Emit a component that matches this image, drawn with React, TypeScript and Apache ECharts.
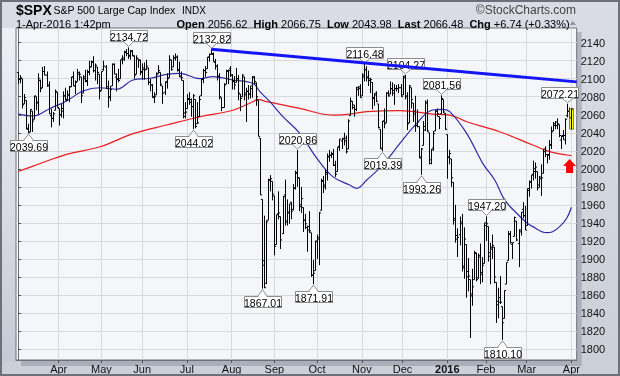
import React, { useEffect, useRef } from "react";
import * as echarts from "echarts";

// ---- Daily OHLC bars [open, high, low, close], one small array per month ----
const mar15 = [
  [2107, 2107, 2094, 2099], [2099, 2104, 2095, 2101], [2100, 2100, 2067, 2071], [2072, 2083, 2072, 2079],
  [2076, 2076, 2044, 2044], [2045, 2050, 2039.69, 2040], [2041, 2066, 2041, 2066], [2064, 2064, 2041, 2053],
  [2055, 2081, 2055, 2081], [2080, 2080, 2065, 2074], [2073, 2106, 2061, 2100], [2098, 2099, 2085, 2089],
  [2090, 2113, 2090, 2108], [2108, 2114, 2104, 2104], [2104, 2108, 2091, 2092], [2093, 2097, 2061, 2061],
  [2059, 2067, 2046, 2056], [2056, 2063, 2052, 2061], [2065, 2088, 2065, 2086], [2085, 2085, 2068, 2068],
];
const apr15 = [
  [2067, 2067, 2048, 2060], [2060, 2072, 2057, 2067], [2064, 2086, 2056, 2081], [2081, 2090, 2076, 2076],
  [2077, 2087, 2076, 2082], [2082, 2092, 2074, 2091], [2091, 2102, 2091, 2102], [2102, 2108, 2092, 2092],
  [2092, 2098, 2083, 2096], [2097, 2111, 2097, 2107], [2105, 2108, 2098, 2105], [2102, 2102, 2073, 2081],
  [2084, 2104, 2084, 2100], [2102, 2110, 2096, 2097], [2098, 2110, 2092, 2108], [2107, 2120, 2104, 2113],
  [2113, 2120, 2113, 2118], [2119, 2125, 2107, 2109], [2109, 2117, 2098, 2115], [2113, 2113, 2094, 2107],
  [2105, 2105, 2077, 2086],
];
const may15 = [
  [2087, 2108, 2087, 2108], [2110, 2120, 2109, 2114], [2113, 2115, 2089, 2089], [2091, 2098, 2068, 2080],
  [2079, 2092, 2075, 2088], [2092, 2117, 2092, 2116], [2116, 2117, 2105, 2105], [2102, 2106, 2086, 2099],
  [2100, 2111, 2096, 2098], [2100, 2121, 2100, 2121], [2122, 2126, 2116, 2123], [2121, 2131, 2120, 2129],
  [2130, 2133, 2125, 2128], [2128, 2134.72, 2122, 2126], [2125, 2132, 2121, 2131], [2130, 2132, 2125, 2126],
  [2125, 2126, 2100, 2104], [2105, 2126, 2105, 2123], [2122, 2122, 2112, 2121], [2120, 2121, 2104, 2107],
];
const jun15 = [
  [2108, 2117, 2099, 2112], [2110, 2118, 2099, 2110], [2110, 2121, 2110, 2114], [2112, 2112, 2093, 2096],
  [2096, 2100, 2086, 2093], [2093, 2094, 2079, 2079], [2080, 2085, 2073, 2080], [2082, 2107, 2082, 2105],
  [2106, 2115, 2106, 2109], [2107, 2107, 2092, 2094], [2092, 2092, 2072, 2084], [2085, 2097, 2082, 2096],
  [2097, 2106, 2089, 2100], [2101, 2126, 2101, 2121], [2121, 2121, 2109, 2110], [2113, 2126, 2113, 2123],
  [2123, 2128, 2120, 2124], [2124, 2126, 2108, 2109], [2110, 2119, 2102, 2102], [2103, 2108, 2098, 2101],
  [2098, 2098, 2056, 2058], [2062, 2074, 2056, 2063],
];
const jul15 = [
  [2067, 2083, 2067, 2077], [2078, 2085, 2071, 2077], [2074, 2078, 2058, 2069], [2069, 2083, 2044.02, 2081],
  [2077, 2077, 2045, 2047], [2050, 2074, 2050, 2051], [2058, 2081, 2058, 2077], [2081, 2100, 2081, 2100],
  [2099, 2111, 2095, 2109], [2109, 2114, 2102, 2107], [2111, 2124, 2111, 2124], [2124, 2128, 2119, 2127],
  [2127, 2132.82, 2127, 2128], [2127, 2129, 2119, 2119], [2118, 2122, 2110, 2114], [2114, 2116, 2098, 2102],
  [2103, 2106, 2077, 2080], [2079, 2079, 2064, 2068], [2068, 2095, 2068, 2093], [2094, 2110, 2094, 2109],
  [2108, 2110, 2094, 2109], [2111, 2114, 2102, 2104],
];
const aug15 = [
  [2104, 2105, 2088, 2098], [2097, 2103, 2088, 2093], [2096, 2112, 2096, 2100], [2100, 2104, 2076, 2084],
  [2083, 2083, 2064, 2078], [2080, 2105, 2080, 2104], [2102, 2102, 2076, 2084], [2082, 2090, 2052, 2086],
  [2086, 2093, 2077, 2083], [2083, 2092, 2078, 2092], [2089, 2103, 2079, 2102], [2101, 2103, 2094, 2097],
  [2095, 2096, 2070, 2080], [2076, 2076, 2036, 2036], [2034, 2034, 1971, 1971], [1966, 1966, 1867.01, 1893],
  [1898, 1948, 1867.6, 1868], [1873, 1943, 1872, 1941], [1943, 1989, 1943, 1988], [1987, 1993, 1975, 1989],
  [1986, 1986, 1965, 1972],
];
const sep15 = [
  [1970, 1970, 1904, 1914], [1916, 1949, 1916, 1949], [1950, 1975, 1944, 1951], [1947, 1947, 1911, 1921],
  [1928, 1970, 1928, 1969], [1971, 1988, 1937, 1942], [1941, 1966, 1937, 1952], [1951, 1961, 1939, 1961],
  [1963, 1963, 1944, 1953], [1955, 1983, 1954, 1978], [1979, 1998, 1977, 1995], [1996, 2020.86, 1980, 1990],
  [1990, 1990, 1953, 1958], [1960, 1980, 1951, 1967], [1957, 1957, 1930, 1943], [1943, 1950, 1933, 1939],
  [1935, 1937, 1908, 1932], [1936, 1953, 1929, 1931], [1929, 1929, 1880, 1882], [1882, 1899, 1871.91, 1884],
  [1887, 1920, 1887, 1920],
];
const oct15 = [
  [1919, 1927, 1900, 1924], [1922, 1952, 1893, 1951], [1954, 1989, 1954, 1987], [1986, 1992, 1973, 1980],
  [1982, 1999, 1977, 1996], [1994, 2017, 1987, 2013], [2014, 2021, 2008, 2015], [2015, 2019, 2012, 2017],
  [2016, 2022, 2003, 2004], [2004, 2009, 1991, 1994], [1997, 2024, 1997, 2024], [2025, 2033, 2020, 2033],
  [2031, 2034, 2022, 2034], [2033, 2040, 2026, 2031], [2034, 2037, 2017, 2019], [2022, 2055, 2022, 2053],
  [2059, 2079, 2059, 2075], [2075, 2075, 2066, 2071], [2068, 2071, 2058, 2066], [2066, 2091, 2064, 2090],
  [2088, 2092, 2081, 2089], [2091, 2094, 2079, 2079],
];
const nov15 = [
  [2081, 2106, 2081, 2104], [2102, 2116.48, 2097, 2110], [2110, 2114, 2097, 2102], [2101, 2109, 2092, 2100],
  [2098, 2101, 2084, 2099], [2096, 2096, 2066, 2079], [2078, 2084, 2070, 2082], [2084, 2086, 2074, 2075],
  [2072, 2072, 2045, 2046], [2044, 2044, 2022, 2023], [2022, 2053, 2019.39, 2053], [2053, 2067, 2045, 2050],
  [2051, 2085, 2051, 2084], [2084, 2087, 2080, 2081], [2083, 2097, 2083, 2089], [2089, 2096, 2081, 2087],
  [2084, 2094, 2071, 2089], [2089, 2093, 2086, 2089], [2089, 2094, 2084, 2090], [2090, 2094, 2080, 2080],
];
const dec15 = [
  [2082, 2103, 2082, 2103], [2101, 2104.27, 2077, 2080], [2081, 2085, 2043, 2050], [2051, 2093, 2051, 2092],
  [2090, 2090, 2067, 2077], [2073, 2073, 2052, 2064], [2061, 2081, 2041, 2048], [2048, 2066, 2046, 2052],
  [2047, 2047, 2012, 2012], [2013, 2023, 1993.26, 2022], [2026, 2053, 2026, 2043], [2047, 2076, 2042, 2073],
  [2074, 2077, 2041, 2042], [2040, 2040, 2005, 2006], [2010, 2022, 2005, 2021], [2023, 2042, 2020, 2039],
  [2042, 2065, 2042, 2064], [2064, 2067, 2058, 2061], [2058, 2058, 2044, 2056], [2061, 2081.56, 2061, 2078],
  [2077, 2077, 2062, 2063], [2061, 2062, 2043, 2044],
];
const jan16 = [
  [2038, 2038, 1989, 2013], [2013, 2021, 2005, 2017], [2011, 2011, 1980, 1990], [1985, 1985, 1938, 1943],
  [1945, 1960, 1918, 1922], [1926, 1934, 1902, 1924], [1927, 1947, 1915, 1939], [1941, 1950, 1886, 1890],
  [1892, 1935, 1878, 1922], [1916, 1916, 1857, 1880], [1886, 1901, 1864, 1881], [1877, 1877, 1812.29, 1859],
  [1861, 1889, 1848, 1869], [1877, 1909, 1877, 1907], [1906, 1907, 1875, 1877], [1879, 1906, 1878, 1904],
  [1902, 1917, 1872, 1883], [1885, 1902, 1874, 1893], [1895, 1940, 1895, 1940],
];
const feb16 = [
  [1937, 1947.2, 1920, 1939], [1936, 1936, 1897, 1903], [1907, 1918, 1872, 1913], [1911, 1927, 1900, 1915],
  [1913, 1913, 1873, 1880], [1874, 1874, 1829, 1853], [1849, 1868, 1834, 1852], [1857, 1881, 1850, 1852],
  [1847, 1847, 1810.1, 1829], [1834, 1865, 1834, 1865], [1872, 1896, 1872, 1896], [1898, 1931, 1898, 1927],
  [1928, 1931, 1917, 1918], [1916, 1918, 1900, 1918], [1925, 1947, 1925, 1946], [1942, 1942, 1920, 1921],
  [1917, 1933, 1891, 1930], [1932, 1952, 1926, 1952], [1955, 1963, 1945, 1948], [1948, 1959, 1932, 1932],
];
const mar16 = [
  [1937, 1978, 1937, 1978], [1976, 1987, 1969, 1986], [1985, 1993, 1978, 1993], [1994, 2009, 1987, 2000],
  [1997, 2007, 1989, 2002], [1997, 1997, 1976, 1979], [1982, 1992, 1979, 1989], [1991, 2005, 1970, 1990],
  [1995, 2022, 1995, 2022], [2019, 2025, 2013, 2020], [2016, 2016, 2006, 2016], [2015, 2032, 2010, 2027],
  [2026, 2047, 2022, 2041], [2042, 2052, 2042, 2050], [2048, 2053, 2044, 2052], [2048, 2056, 2044, 2050],
  [2049, 2049, 2035, 2037], [2032, 2037, 2022, 2036], [2037, 2043, 2032, 2037], [2032, 2056, 2027, 2055],
  [2059, 2072.21, 2057, 2064], [2064, 2068, 2057, 2060],
];
const apr16 = [[2056.62, 2066.75, 2043.98, 2066.48]];

const monthBlocks = [mar15, apr15, may15, jun15, jul15, aug15, sep15, oct15, nov15, dec15, jan16, feb16, mar16, apr16];
const monthNames = ["Mar", "Apr", "May", "Jun", "Jul", "Aug", "Sep", "Oct", "Nov", "Dec", "2016", "Feb", "Mar", "Apr"];

// Moving averages: [bar index, value]
const ma50 = [
  [0, 2061], [7.4, 2058.6], [10.8, 2060.8], [15.7, 2067], [23.9, 2075.3], [31.9, 2086.4], [40.3, 2090],
  [48.5, 2088.3], [56.5, 2098.6], [64.8, 2100.5], [73, 2104.9], [79.6, 2106], [89.4, 2100], [95.8, 2102.3],
  [105.6, 2098.6], [115.4, 2094.9], [118.9, 2085.6], [123.8, 2074.5], [130.2, 2057.9], [138.5, 2039.4],
  [146.9, 2011.6], [154.7, 1991.3], [163, 1982], [166.5, 1978.4], [171.4, 1987.6], [179.3, 2004.3],
  [187.6, 2028], [196, 2050.5], [203.8, 2065.3], [208.7, 2066], [212.2, 2063.4], [220.5, 2039.4],
  [228.4, 2006.1], [234.3, 1987.6], [239.2, 1965.5], [245.1, 1950.7], [250, 1940.2], [253, 1935.8],
  [259.8, 1929.1], [262.8, 1930.2], [266.2, 1935.8], [269.7, 1945.1], [272, 1957.3],
];
const ma200 = [
  [0, 1997], [7.4, 2003], [23.9, 2016], [40.3, 2024.5], [56.5, 2039], [73, 2048.6], [89.4, 2057.8],
  [105.6, 2065], [115.4, 2074.5], [117.9, 2077], [122.3, 2074.5], [138.5, 2067], [154.7, 2059.7],
  [163, 2060.8], [171.4, 2063.4], [187.6, 2064.5], [203.8, 2060.8], [212.2, 2059.7], [220.5, 2052.3],
  [236.7, 2041.2], [253, 2026.4], [261.3, 2019], [269.7, 2015.3], [272, 2014.6],
];

const highLabelIdx = [54, 95, 137, 170, 190, 208, 230, 270];
const lowLabelIdx = [5, 86, 120, 145, 179, 198, 238];
const trendLine = [[95, 2132.82], [274.6, 2096.5]];
const arrowAt = [271.1, 2011];
const yTicks = [1800, 1820, 1840, 1860, 1880, 1900, 1920, 1940, 1960, 1980, 2000, 2020, 2040, 2060, 2080, 2100, 2120, 2140];

const quote = { open: "2056.62", high: "2066.75", low: "2043.98", last: "2066.48", chg: "+6.74 (+0.33%)" };

const FONT = "'Liberation Sans', Arial, Helvetica, sans-serif";

export default function App() {
  const ref = useRef<HTMLDivElement>(null);
  useEffect(() => {
    if (!ref.current) return;
    const chart = echarts.init(ref.current, null, { renderer: "svg" });

    const bars: number[][] = [];
    const monthStarts: number[] = [];
    const monthLabelAt: Record<number, string> = {};
    monthBlocks.forEach((blk, m) => {
      if (m > 0) {
        monthStarts.push(bars.length);
        monthLabelAt[bars.length] = monthNames[m];
      }
      blk.forEach((r) => bars.push([bars.length, r[0], r[1], r[2], r[3]]));
    });
    const lastIdx = bars.length - 1;
    const callouts = [
      ...highLabelIdx.map((i) => [i, bars[i][2], 1]),
      ...lowLabelIdx.map((i) => [i, bars[i][3], -1]),
    ];

    const gridL = 16, gridT = 28, gridR = 576.7, gridB = 360;

    chart.setOption({
      animation: false,
      grid: {
        left: gridL, top: gridT, right: 620 - gridR, bottom: 376 - gridB,
        show: true, backgroundColor: "transparent", borderColor: "#6e717b", borderWidth: 1,
      },
      xAxis: {
        type: "value", min: -1, max: 274.6,
        axisLine: { show: true, lineStyle: { color: "#6e717b" } },
        axisTick: { show: true, customValues: monthStarts, length: 3, lineStyle: { color: "#555" } },
        axisLabel: {
          customValues: monthStarts, margin: 3, color: "#111", fontSize: 11, fontFamily: FONT,
          formatter: (v: number) => {
            const s = monthLabelAt[Math.round(v)] || "";
            return s === "2016" ? "{b|2016}" : s;
          },
          rich: { b: { fontWeight: "bold", fontSize: 11, fontFamily: FONT, color: "#111" } },
        },
        splitLine: { show: true, lineStyle: { color: "#d8dae0", width: 1 } },
      },
      yAxis: {
        type: "value", position: "right", min: 1787.8, max: 2156.3, scale: true,
        axisLine: { show: true, lineStyle: { color: "#6e717b" } },
        axisTick: { show: true, customValues: yTicks, length: 3, lineStyle: { color: "#555" } },
        axisLabel: {
          customValues: yTicks, margin: 4, color: "#111", fontSize: 11, fontFamily: FONT,
          formatter: (v: number) => String(Math.round(v)),
        },
        splitLine: { show: true, lineStyle: { color: "#d8dae0", width: 1 } },
      },
      graphic: [
        { type: "rect", z: -30, shape: { x: 0, y: 0, width: 620, height: 376 },
          style: { fill: new echarts.graphic.LinearGradient(0, 0, 0, 1, [
            { offset: 0, color: "#dadde5" }, { offset: 1, color: "#cbcfd8" }]) } },
        { type: "rect", z: -29, shape: { x: 2, y: 28, width: 14, height: 334 },
          style: { fill: new echarts.graphic.LinearGradient(0, 0, 0, 1, [
            { offset: 0, color: "#eef0f6" }, { offset: 1, color: "#c6cad4" }]) } },
        { type: "rect", z: -28, shape: { x: gridL + 5, y: gridT + 4, width: gridR - gridL, height: gridB - gridT + 2 },
          style: { fill: "rgba(110,116,132,0.35)" } },
        { type: "rect", z: -27, shape: { x: gridL, y: gridT, width: gridR - gridL, height: gridB - gridT },
          style: { fill: "#f5f6fa" } },
        { type: "rect", z: 60, shape: { x: 1, y: 1, width: 618, height: 374 },
          style: { fill: "none", stroke: "#6c707a", lineWidth: 2 } },
        { type: "text", z: 60, x: 16, y: 9.5, style: { text: "$SPX", font: `bold 14px ${FONT}`, fill: "#000", verticalAlign: "middle" } },
        { type: "text", z: 60, x: 53.5, y: 10, style: { text: "S&P 500 Large Cap Index", font: `10.5px ${FONT}`, fill: "#000", verticalAlign: "middle" } },
        { type: "text", z: 60, x: 182, y: 10, style: { text: "INDX", font: `10px ${FONT}`, fill: "#000", verticalAlign: "middle" } },
        { type: "text", z: 60, x: 576, y: 9.5, style: { text: "©StockCharts.com", font: `12px ${FONT}`, fill: "#444", align: "right", verticalAlign: "middle" } },
        { type: "text", z: 60, x: 16, y: 23.5, style: { text: "1-Apr-2016 1:42pm", font: `11px ${FONT}`, fill: "#000", verticalAlign: "middle" } },
        { type: "text", z: 60, x: 176.5, y: 23.5, style: {
            text: `{b|Open} ${quote.open}  {b|High} ${quote.high}  {b|Low} ${quote.low}  {b|Last} ${quote.last}  {b|Chg} ${quote.chg}`,
            font: `11px ${FONT}`, fill: "#000", verticalAlign: "middle",
            rich: { b: { fontWeight: "bold", fontSize: 11, fontFamily: FONT, fill: "#000" } } } },
        { type: "polygon", z: 60, shape: { points: [[569.5, 25], [576, 25], [572.75, 21]] }, style: { fill: "#8d94a2" } },
      ],
      series: [
        {
          type: "line", data: ma200, smooth: 0.4, showSymbol: false, z: 3,
          lineStyle: { color: "#e81c1c", width: 1.2 },
        },
        {
          type: "line", data: ma50, smooth: 0.4, showSymbol: false, z: 3,
          lineStyle: { color: "#2c2ca6", width: 1.2 },
        },
        {
          type: "custom", z: 4, data: bars,
          renderItem: (params: any, api: any) => {
            const i = api.value(0);
            const pH = api.coord([i, api.value(2)]);
            const pL = api.coord([i, api.value(3)]);
            const yO = api.coord([i, api.value(1)])[1];
            const yC = api.coord([i, api.value(4)])[1];
            const x = Math.round(pH[0]) + 0.5;
            const children: any[] = [];
            if (i === lastIdx) {
              children.push({ type: "rect", shape: { x: x - 2, y: pH[1], width: 4, height: pL[1] - pH[1] },
                style: { fill: "#ffff22", stroke: "#333", lineWidth: 0.6 } });
            }
            children.push({ type: "line", shape: { x1: x, y1: pH[1], x2: x, y2: pL[1] }, style: { stroke: "#000", lineWidth: 1 } });
            children.push({ type: "line", shape: { x1: x - 1.6, y1: yO, x2: x, y2: yO }, style: { stroke: "#000", lineWidth: 1 } });
            children.push({ type: "line", shape: { x1: x, y1: yC, x2: x + 1.6, y2: yC }, style: { stroke: "#000", lineWidth: 1 } });
            return { type: "group", children };
          },
        },
        {
          type: "custom", z: 5, data: callouts,
          renderItem: (params: any, api: any) => {
            const i = api.value(0), v = api.value(1), dir = api.value(2);
            const p = api.coord([i, v]);
            const x = Math.round(p[0]) + 0.5;
            const w = 37, h = 11;
            let bx = Math.round(x - w / 2) + 0.5;
            if (bx + w > gridR + 1.5) bx = Math.round(gridR + 1.5 - w) + 0.5;
            let baseY: number, boxY: number, apexY: number;
            if (dir > 0) { baseY = Math.round(p[1] - 6) + 0.5; boxY = baseY - h; apexY = p[1] - 1; }
            else { baseY = Math.round(p[1] + 7) + 0.5; boxY = baseY; apexY = p[1] + 1; }
            return {
              type: "group",
              children: [
                { type: "rect", shape: { x: bx, y: boxY, width: w, height: h },
                  style: { fill: "#ffffff", stroke: "#8c8c8c", lineWidth: 1 } },
                { type: "polygon", shape: { points: [[x - 5, baseY], [x, apexY], [x + 5, baseY]] },
                  style: { fill: "#ffffff", stroke: "#8c8c8c", lineWidth: 1 } },
                { type: "line", shape: { x1: x - 4, y1: baseY, x2: x + 4, y2: baseY },
                  style: { stroke: "#ffffff", lineWidth: 1.5 } },
                { type: "text", x: bx + w / 2, y: boxY + h / 2 + 0.5,
                  style: { text: v.toFixed(2), font: `10.5px ${FONT}`, fill: "#000", align: "center", verticalAlign: "middle" } },
              ],
            };
          },
        },
        {
          type: "line", data: trendLine, showSymbol: false, z: 6,
          lineStyle: { color: "#1414f5", width: 3 },
        },
        {
          type: "custom", z: 6, data: [arrowAt],
          renderItem: (params: any, api: any) => {
            const p = api.coord([api.value(0), api.value(1)]);
            const x = p[0], y = p[1];
            return {
              type: "polygon",
              shape: { points: [[x, y], [x + 6.5, y + 7], [x + 3.5, y + 7], [x + 3.5, y + 14], [x - 3.5, y + 14], [x - 3.5, y + 7], [x - 6.5, y + 7]] },
              style: { fill: "#ff0000" },
            };
          },
        },
      ],
    });
    return () => chart.dispose();
  }, []);
  return <div ref={ref} style={{ position: "fixed", left: 0, top: 0, width: 620, height: 376 }} />;
}
